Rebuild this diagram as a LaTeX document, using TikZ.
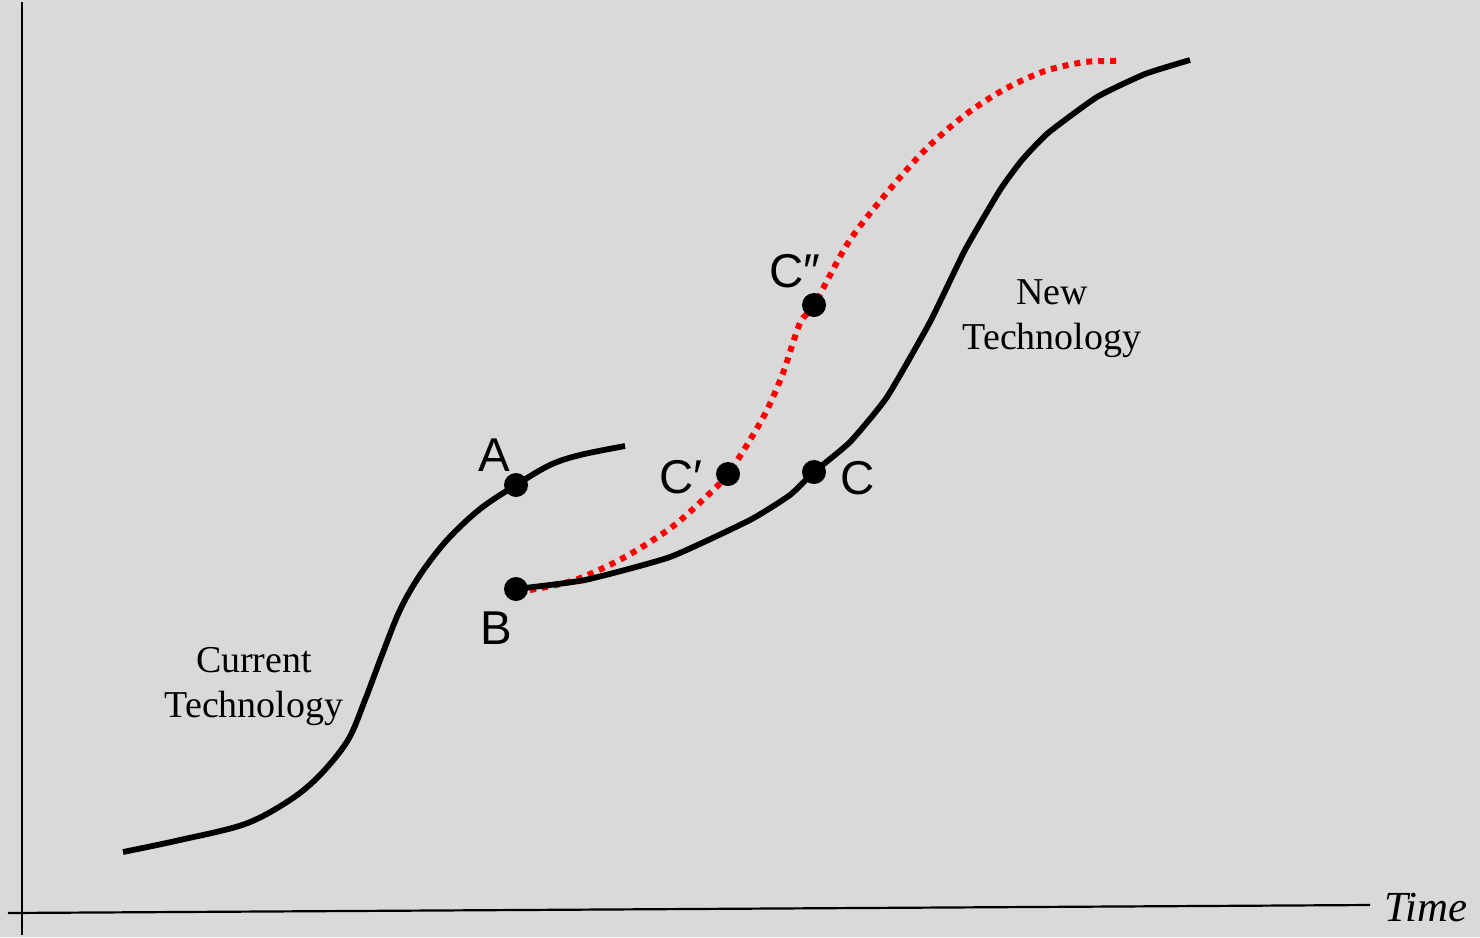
\documentclass[tikz,border=0pt]{standalone}
\usepackage{fontspec}
\setmainfont{Liberation Serif}
\setsansfont{Liberation Sans}
\usetikzlibrary{positioning}
\definecolor{bggray}{HTML}{D9D9D9}
\definecolor{altred}{HTML}{FF0000}
\tikzset{
    axis/.style={line width=0.22mm, draw=black},
    curve/.style={line width=0.58mm, draw=black, line join=round},
    altcurve/.style={line width=0.6mm, draw=altred, dash pattern=on 0.6mm off 0.6mm},
    point/.style={circle, fill=black, inner sep=0pt, minimum size=2.4mm},
    ptlabel/.style={font=\sffamily\fontsize{13.5}{14}\selectfont, inner sep=0pt},
    techlabel/.style={align=center, font=\fontsize{10.8}{12.8}\selectfont, inner sep=0pt}
}

\begin{document}
\begin{tikzpicture}[x=0.1mm, y=-0.1mm]
    \fill[bggray] (0,0) rectangle (1480,937);
    \useasboundingbox (0,0) rectangle (1480,937);
    % axes
    \coordinate (ytop) at (22,2);
    \coordinate (ybot) at (22,935);
    \coordinate (xleft) at (8,913);
    \coordinate (xright) at (1370,905);
    \draw[axis] (ybot) -- (ytop);
    \draw[axis] (xleft) -- (xright);
    \node[font=\itshape\fontsize{12.2}{13}\selectfont, inner sep=0pt] (time) at (1426,907) {Time};
    % alternative path of the new technology
    \draw[altcurve] plot[smooth, tension=0.5] coordinates {(530,590) (575,580) (625,557) (672,527) (708,495) (728,474) (750,440) (767,410) (783,373) (800,323) (814,305) (848,243) (885,195) (925,150) (965,115) (1005,89) (1045,71) (1085,62) (1118,61)};
    % current technology
    \draw[curve] plot[smooth, tension=0.55] coordinates {(123,852) (180,840) (245,824) (290,800) (320,775) (348,740) (365,700) (382,655) (400,610) (420,575) (447,540) (480,509) (516,485) (550,465) (580,455) (625,446)};
    % new technology
    \draw[curve] plot[smooth, tension=0.3] coordinates {(516,589) (585,580) (670,557) (750,520) (790,495) (814,472) (850,442) (887,397) (930,322) (965,250) (1000,190) (1022,160) (1048,133) (1097,97) (1145,74) (1190,60)};
    % points
    \node[point] (A) at (516,485) {};
    \node[point] (B) at (516,589) {};
    \node[point] (C) at (814,472) {};
    \node[point] (C1) at (728,474) {};
    \node[point] (C2) at (814,305) {};
    % labels
    \node[ptlabel] (labA) at (494,455) {A};
    \node[ptlabel] (labB) at (496,628) {B};
    \node[ptlabel] (labC) at (858,478) {C};
    \node[ptlabel] (labC1) at (681,477) {C′};
    \node[ptlabel] (labC2) at (795,271) {C″};
    \node[techlabel] (current) at (254,687) {Current\\Technology};
    \node[techlabel] (new) at (1052,319) {New\\Technology};
\end{tikzpicture}
\end{document}
